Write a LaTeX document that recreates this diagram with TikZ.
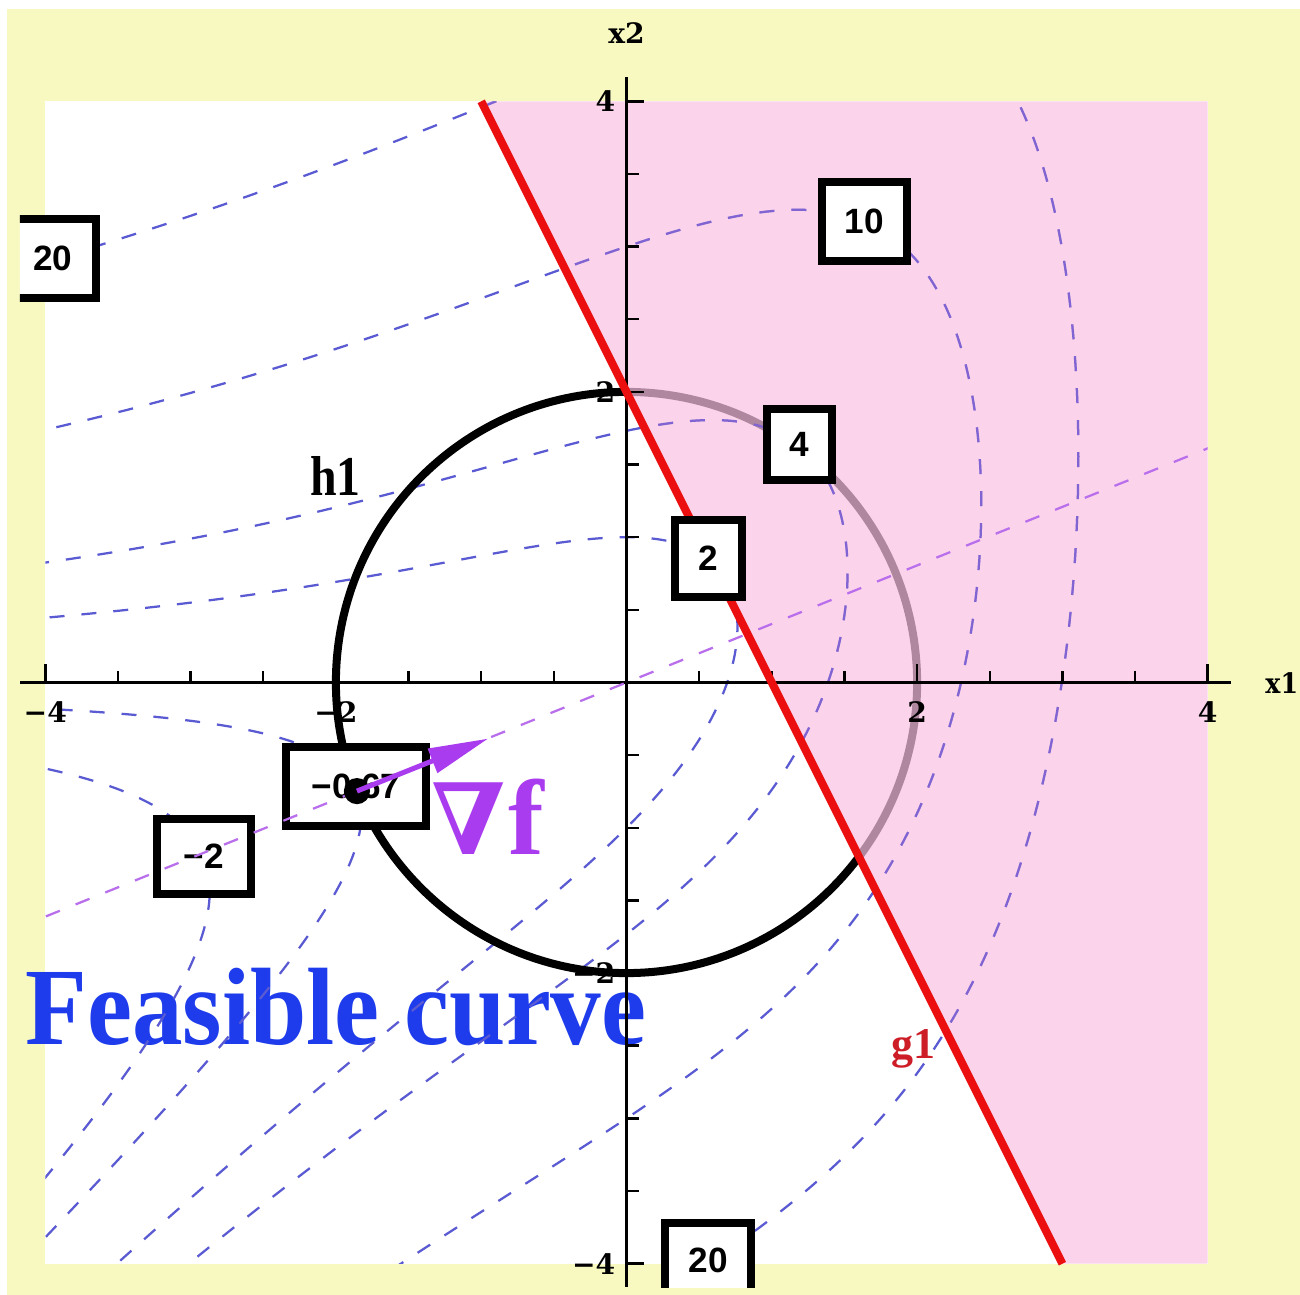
\documentclass[tikz,border=0pt]{standalone}
\usepackage{fontspec}
\usepackage{graphicx}
\newfontfamily\libsans{Liberation Sans}
\newfontfamily\libserif{Liberation Serif}
\newfontfamily\djserif{DejaVu Serif}
\usetikzlibrary{arrows.meta}
\definecolor{bgyellow}{RGB}{247,249,193}
\definecolor{pinkov}{RGB}{250,195,228}
\definecolor{contblue}{RGB}{90,90,210}
\definecolor{contpink}{RGB}{128,100,210}
\definecolor{gradpurple}{RGB}{185,110,235}
\definecolor{nablapurple}{RGB}{170,60,240}
\definecolor{feasblue}{RGB}{30,60,235}
\definecolor{gred}{RGB}{235,15,15}
\definecolor{glabel}{RGB}{205,30,40}
\tikzset{
  contourline/.style={line width=0.45mm, draw=contblue, dash pattern=on 3mm off 3.4mm},
  gradline/.style={line width=0.45mm, draw=gradpurple, dash pattern=on 3mm off 3.4mm},
  lblbox/.style={draw=black, line width=1.6mm, fill=white, inner sep=0pt,
    font=\libsans\bfseries\fontsize{20}{20}\selectfont},
  ticklbl/.style={inner sep=0pt, font=\djserif\bfseries\fontsize{16}{16}\selectfont},
  axisline/.style={line width=0.5mm, draw=black},
  hcurve/.style={line width=1.6mm, draw=black},
}
\newcommand\fcontour[4][contourline]{%
  \draw[#1] plot[domain=-#4:#4, samples=401, variable=\t]
   ({#3-\t*\t}, {0.5*((#3-\t*\t) + ifthenelse(\t<0,-1,1)*sqrt(max(fD(#3-\t*\t,#2),0)))});
}
\newcommand\allcontours[1]{%
  \fcontour[#1]{20}{3.1099}{2.722}
  \fcontour[#1]{10}{2.4415}{2.597}
  \fcontour[#1]{4}{1.5215}{2.413}
  \fcontour[#1]{2}{0.7636}{2.250}
  \fcontour[#1]{-0.6715}{-1.825}{1.573}
  \fcontour[#1]{-2}{-2.8685}{1.196}
}
\begin{document}
\begin{tikzpicture}[x=2.906cm, y=2.906cm,
  declare function={fD(\x,\c)=\x*\x-4*exp(\x)+4*(\c);}]
\useasboundingbox (-4.3118,-4.2154) rectangle (4.6352,4.6972);
% backgrounds
\fill[white] (-4.3118,-4.2154) rectangle (4.6352,4.6972);
\fill[bgyellow] (-4.2636,-4.2154) rectangle (4.6352,4.6353);
\fill[white] (-4,-4) rectangle (4,4);
% texts under the contours
\node[anchor=base west, inner sep=0pt, text=feasblue,
  font=\libserif\bfseries\fontsize{62.6}{62.6}\selectfont] (feas) at (-4.140,-2.488)
  {\scalebox{0.92}[1]{Feasible curve}};
\node[anchor=base west, inner sep=0pt, text=glabel,
  font=\libserif\bfseries\fontsize{25}{25}\selectfont] (g1lbl) at (1.820,-2.591)
  {g1};
% contours of f = exp(x1) + x2^2 - x1 x2
\begin{scope}
  \clip (-4,-4) rectangle (4,4);
  \allcontours{contourline}
  % infeasible part of h1 (under the shading)
  \draw[hcurve] (1.6,-1.2) arc[start angle=-36.87, end angle=90, radius=2];
\end{scope}
% shaded region of g1
\fill[pinkov, opacity=0.7] (-1,4) -- (4,4) -- (4,-4) -- (3,-4) -- cycle;
\begin{scope}
  \clip (-1,4) -- (4,4) -- (4,-4) -- (3,-4) -- cycle;
  \allcontours{contourline, draw=contpink}
\end{scope}
% axes
\coordinate (xa) at (-4.174,0);
\coordinate (xb) at (4.16,0);
\coordinate (ya) at (0,-4.16);
\coordinate (yb) at (0,4.167);
\draw[axisline] (xa) -- (xb);
\draw[axisline] (ya) -- (yb);
\foreach \v in {-3.5,-3,-2.5,-1.5,-1,-0.5,0.5,1,1.5,2.5,3,3.5} {
  \draw[axisline] (\v,0) -- (\v,0.08);
  \draw[axisline] (0,\v) -- (0.085,\v);
}
\foreach \v in {-4,-2,2,4} {
  \draw[axisline] (\v,0) -- (\v,0.13);
  \draw[axisline] (0,\v) -- (0.12,\v);
}
\node[ticklbl, anchor=north] (tx1) at (-4,-0.127) {−4};
\node[ticklbl, anchor=north] (tx2) at (-2,-0.127) {−2};
\node[ticklbl, anchor=north] (tx3) at (2,-0.127) {2};
\node[ticklbl, anchor=north] (tx4) at (4,-0.127) {4};
\node[ticklbl, anchor=east] (ty1) at (-0.075,4) {4};
\node[ticklbl, anchor=east] (ty2) at (-0.075,2) {2};
\node[ticklbl, anchor=east] (ty3) at (-0.075,-2) {−2};
\node[ticklbl, anchor=east] (ty4) at (-0.075,-4) {−4};
\node[ticklbl, anchor=base east] (x1lbl) at (4.625,-0.079) {\scalebox{0.9}[1]{x1}};
\node[ticklbl, anchor=base] (x2lbl) at (0,4.401) {x2};
% feasible part of h1
\draw[hcurve] (0,2) arc[start angle=90, end angle=323.13, radius=2];
% g1 boundary
\coordinate (g1a) at (-1,4);
\coordinate (g1b) at (3,-4);
\draw[gred, line width=1.6mm] (g1a) -- (g1b);
% h1 label
\node[anchor=base west, inner sep=0pt, font=\libserif\bfseries\fontsize{32}{32}\selectfont]
  (h1lbl) at (-2.178,1.290) {\scalebox{0.85}[1]{h1}};
% contour labels
\begin{scope}
  \clip (-4.1741,-4.1604) rectangle (4.7,4.7);
  \node[lblbox, minimum width=17.2mm, minimum height=15.8mm] (b20a) at (-3.947,2.918) {20};
  \node[lblbox, minimum width=17mm, minimum height=15.8mm] (b10) at (1.638,3.173) {10};
  \node[lblbox, minimum width=13mm, minimum height=14.2mm] (b4) at (1.191,1.638) {4};
  \node[lblbox, minimum width=13.4mm, minimum height=15.4mm] (b2) at (0.564,0.853) {2};
  \node[lblbox, minimum width=18.8mm, minimum height=15mm] (bm2) at (-2.908,-1.1975) {−2};
  \node[lblbox, minimum width=28mm, minimum height=15.8mm] (bm067) at (-1.862,-0.716) {−0.67};
  \node[lblbox, minimum width=17.2mm, minimum height=14.8mm] (b20b) at (0.561,-3.976) {20};
\end{scope}
% gradient line through the optimum
\coordinate (gl1) at (-4.2,-1.692);
\coordinate (gl2) at (4.2,1.692);
\begin{scope}
  \clip (-4,-4) rectangle (4,4);
  \draw[gradline] (gl1) -- (gl2);
\end{scope}
% optimum and gradient
\coordinate (opt) at (-1.8551,-0.7474);
\coordinate (gtip) at (-0.9515,-0.386);
\fill[black] (opt) circle (0.09);
\draw[nablapurple, line width=1mm, -{Triangle[length=12mm,width=5mm]}] (opt) -- (gtip);
\node[anchor=base west, inner sep=0pt, text=nablapurple] (nablalbl) at (-1.345,-1.187)
  {{\djserif\bfseries\fontsize{56}{56}\selectfont ∇}\kern 0.6mm{\libserif\bfseries\fontsize{61}{61}\selectfont f}};
\end{tikzpicture}
\end{document}
